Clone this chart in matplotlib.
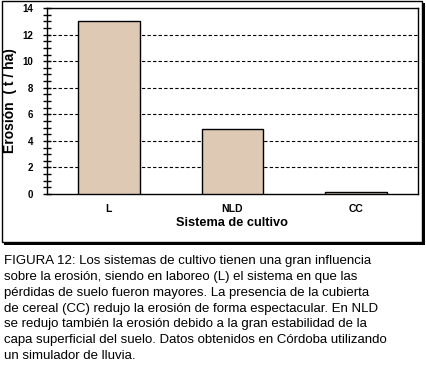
import numpy as np
import matplotlib.pyplot as plt
from matplotlib.patches import Rectangle
from matplotlib.ticker import MultipleLocator

sistemas = ["L", "NLD", "CC"]
erosion = [13.0, 4.9, 0.12]
yticks = [0, 2, 4, 6, 8, 10, 12, 14]
caption = ("FIGURA 12: Los sistemas de cultivo tienen una gran influencia\n"
           "sobre la erosión, siendo en laboreo (L) el sistema en que las\n"
           "pérdidas de suelo fueron mayores. La presencia de la cubierta\n"
           "de cereal (CC) redujo la erosión de forma espectacular. En NLD\n"
           "se redujo también la erosión debido a la gran estabilidad de la\n"
           "capa superficial del suelo. Datos obtenidos en Córdoba utilizando\n"
           "un simulador de lluvia.")

plt.rcParams['font.family'] = ['Liberation Sans', 'DejaVu Sans']
W, H = 426, 368
fig = plt.figure(figsize=(W / 100, H / 100), dpi=100)

# marco exterior con sombra
fig.patches.append(Rectangle((4 / W, 1 - 245 / H), 421 / W, 242 / H,
                             transform=fig.transFigure, facecolor='black',
                             edgecolor='none', zorder=0))
fig.patches.append(Rectangle((1.5 / W, 1 - 242 / H), 420 / W, 240.5 / H,
                             transform=fig.transFigure, facecolor='white',
                             edgecolor='black', linewidth=1, zorder=1))

ax = fig.add_axes([47 / W, 1 - 194 / H, 371 / W, 186 / H])
ax.set_zorder(2)
x = np.arange(len(sistemas))
ax.bar(x, erosion, width=0.5, color='#DDC9B4', edgecolor='black',
       linewidth=1, zorder=3)
ax.set_xlim(-0.5, 2.5)
ax.set_ylim(0, 14)
ax.set_xticks(x)
ax.set_xticklabels(sistemas, fontsize=7.5, fontweight='bold')
ax.set_yticks(yticks)
ax.set_yticklabels([str(v) for v in yticks], fontsize=7, fontweight='bold')
ax.yaxis.set_minor_locator(MultipleLocator(0.5))
ax.tick_params(axis='y', which='both', direction='inout', length=6,
               width=1, pad=7)
ax.tick_params(axis='x', length=0, pad=7)
for v in yticks[1:-1]:
    ax.axhline(v, color='black', linestyle=(0, (3, 2)), linewidth=0.8,
               zorder=1)
for s in ax.spines.values():
    s.set_linewidth(1)
ax.set_xlabel("Sistema de cultivo", fontsize=9.2, fontweight='bold', labelpad=2)
ax.set_ylabel("Erosión  ( t / ha)", fontsize=10, fontweight='bold', va='center')
ax.yaxis.set_label_coords(-37 / 371, 0.5)

fig.text(4 / W, 1 - 255 / H, caption, fontsize=9.5, va='top', ha='left',
         linespacing=1.43)

fig.savefig("out.png", dpi=100)
